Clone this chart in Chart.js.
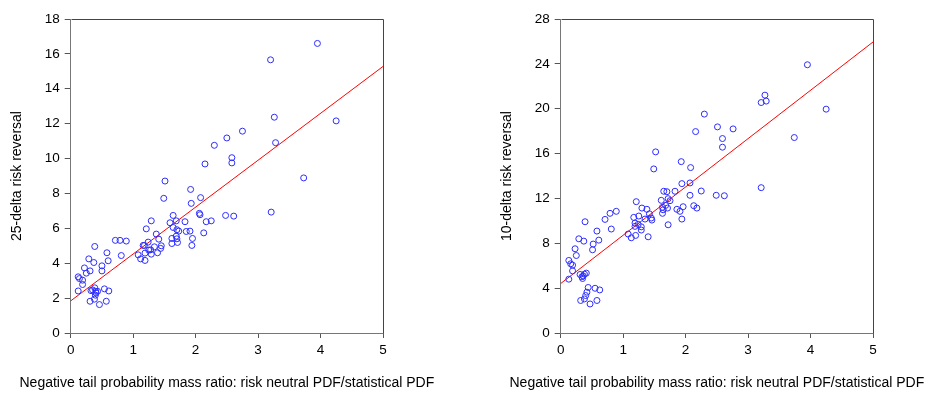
<!DOCTYPE html>
<html>
<head>
<meta charset="utf-8">
<script src="https://cdn.jsdelivr.net/npm/chart.js@4.4.1/dist/chart.umd.min.js"></script>
<style>
  body { margin: 0; background: #fff; width: 930px; height: 393px; overflow: hidden; position: relative; }
  canvas { position: absolute; top: 0; }
  #left { left: 0; }
  #right { left: 490px; }
</style>
</head>
<body>
<canvas id="left" width="465" height="393"></canvas>
<canvas id="right" width="440" height="393"></canvas>
<script>
// x values: negative tail probability mass ratio
var leftX = [3.95, 3.20, 3.26, 4.25, 2.75, 2.50, 2.30, 3.28, 2.58, 2.58, 2.15, 3.73, 1.51, 1.92, 1.49, 2.08,
  1.93, 2.48, 2.61, 3.21, 2.06, 2.07, 1.64, 1.69, 1.59, 1.83, 2.17, 2.25, 1.29, 1.21, 1.64, 2.13,
  1.85, 1.91, 1.70, 1.73, 1.37, 1.69, 1.62, 1.70, 1.95, 1.62, 1.71, 1.94, 1.41, 0.715, 0.79, 0.89,
  0.385, 1.24, 1.16, 1.18, 1.34, 1.45, 1.44, 1.25, 1.28, 0.58, 1.19, 1.39, 1.08, 1.29, 0.81, 1.12,
  1.19, 0.29, 0.60, 0.37, 0.50, 0.22, 0.31, 0.50, 0.25, 0.12, 0.14, 0.19, 0.19, 0.12, 0.325, 0.35,
  0.385, 0.40, 0.43, 0.405, 0.395, 0.54, 0.61, 0.31, 0.38, 0.46, 0.57];
var leftY = [16.6, 15.66, 12.37, 12.16, 11.57, 11.18, 10.76, 10.91, 10.05, 9.75, 9.69, 8.89, 8.71, 8.23, 7.72, 7.76,
  7.43, 6.74, 6.70, 6.93, 6.86, 6.78, 6.74, 6.43, 6.32, 6.38, 6.38, 6.43, 6.43, 5.97, 6.05, 5.74,
  5.82, 5.84, 5.92, 5.84, 5.67, 5.55, 5.42, 5.40, 5.42, 5.13, 5.19, 5.02, 5.38, 5.31, 5.31, 5.27,
  4.96, 5.21, 5.02, 5.02, 4.94, 5.00, 4.85, 4.75, 4.77, 4.60, 4.58, 4.60, 4.48, 4.52, 4.44, 4.25,
  4.16, 4.25, 4.14, 4.04, 3.85, 3.73, 3.56, 3.56, 3.43, 3.22, 3.12, 3.03, 2.78, 2.41, 2.43, 2.47,
  2.59, 2.39, 2.39, 2.30, 2.17, 2.53, 2.41, 1.82, 1.94, 1.63, 1.82];

var rightX = [3.95, 3.27, 3.21, 3.29, 4.25, 2.30, 2.51, 2.76, 2.16, 2.59, 3.74, 2.59, 1.52, 1.93, 1.49, 2.08,
  1.94, 2.07, 3.21, 1.65, 1.70, 1.83, 2.25, 2.07, 2.49, 2.62, 1.21, 1.61, 1.72, 1.75, 1.68, 1.63,
  1.71, 1.64, 1.63, 1.96, 1.86, 1.91, 2.13, 2.18, 1.94, 1.72, 0.89, 0.79, 0.71, 0.39, 1.30, 1.38,
  1.17, 1.25, 1.42, 1.45, 1.46, 1.35, 1.19, 1.24, 1.19, 1.29, 1.29, 0.81, 0.58, 1.08, 1.20, 1.13,
  1.40, 0.29, 0.37, 0.61, 0.52, 0.51, 0.23, 0.25, 0.13, 0.16, 0.19, 0.19, 0.13, 0.31, 0.34, 0.36,
  0.38, 0.41, 0.35, 0.44, 0.42, 0.40, 0.55, 0.625, 0.32, 0.38, 0.47, 0.58];
var rightY = [23.92, 21.21, 20.55, 20.68, 19.96, 19.52, 18.38, 18.20, 17.96, 17.34, 17.43, 16.57, 16.15, 15.28, 14.63, 14.75,
  13.32, 13.38, 12.96, 12.64, 12.60, 12.64, 12.66, 12.28, 12.28, 12.24, 11.71, 11.83, 11.98, 11.80, 11.38, 11.21,
  11.14, 10.99, 10.67, 11.26, 11.03, 10.85, 11.35, 11.14, 10.16, 9.65, 10.85, 10.67, 10.13, 9.92, 11.14, 11.03,
  10.31, 10.43, 10.63, 10.25, 10.07, 10.16, 9.80, 9.69, 9.51, 9.47, 9.18, 9.27, 9.09, 8.82, 8.70, 8.49,
  8.58, 8.40, 8.19, 8.28, 7.93, 7.42, 7.51, 6.91, 6.47, 6.17, 6.05, 5.54, 4.80, 5.22, 5.01, 5.09,
  5.25, 5.34, 4.86, 4.06, 3.64, 3.34, 3.99, 3.84, 2.90, 3.04, 2.59, 2.90];

// fitted lines, read at the two ends of the x axis
var fitX = [0, 5];
var leftFitY = [1.84, 15.28];
var rightFitY = [4.41, 25.95];

var xTitle = 'Negative tail probability mass ratio: risk neutral PDF/statistical PDF';
var leftTitle = '25-delta risk reversal';
var rightTitle = '10-delta risk reversal';

var FONT = 'Liberation Sans, Arial, sans-serif';

// top and right edges of the frame, plus the x axis title (wider than the axis, so not squeezed)
var framePlugin = {
    id: 'frame',
    afterDraw: function (chart) {
        var a = chart.chartArea;
        var ctx = chart.ctx;
        ctx.save();
        ctx.strokeStyle = '#444';
        ctx.lineWidth = 1;
        ctx.beginPath();
        ctx.moveTo(Math.round(a.left) + 0.5, Math.round(a.top) + 0.5);
        ctx.lineTo(Math.round(a.right) + 0.5, Math.round(a.top) + 0.5);
        ctx.lineTo(Math.round(a.right) + 0.5, Math.round(a.bottom) + 0.5);
        ctx.stroke();
        ctx.fillStyle = '#000';
        ctx.font = '14px ' + FONT;
        ctx.textAlign = 'center';
        ctx.textBaseline = 'middle';
        ctx.fillText(xTitle, (a.left + a.right) / 2, 383);
        ctx.restore();
    }
};

function drawScatter(id, xs, ys, fitY, yMax, yStep, yTitle, padRight) {
    var points = xs.map(function (x, i) { return {x: x, y: ys[i]}; });
    var fit = fitX.map(function (x, i) { return {x: x, y: fitY[i]}; });
    return new Chart(document.getElementById(id), {
        type: 'scatter',
        data: {
            datasets: [{
                data: points,
                pointStyle: 'circle',
                pointRadius: 3,
                pointHoverRadius: 3,
                borderColor: 'rgb(45,45,255)',
                backgroundColor: 'rgba(0,0,0,0)',
                borderWidth: 1
            }, {
                type: 'line',
                data: fit,
                borderColor: 'rgb(255,0,0)',
                borderWidth: 1,
                pointRadius: 0,
                fill: false
            }]
        },
        options: {
            responsive: false,
            animation: false,
            events: [],
            layout: { padding: { top: 19, right: padRight, left: 0, bottom: 0 } },
            plugins: { legend: { display: false }, tooltip: { enabled: false } },
            scales: {
                x: {
                    type: 'linear', min: 0, max: 5,
                    afterFit: function (s) { s.height = 60; },
                    ticks: { stepSize: 1, padding: 4, color: '#000', font: { family: FONT, size: 13.5 } },
                    grid: { drawOnChartArea: false, drawTicks: true, tickLength: 5, color: '#555' },
                    border: { color: '#777' }
                },
                y: {
                    min: 0, max: yMax,
                    afterFit: function (s) { s.width = 70.7; },
                    ticks: { stepSize: yStep, padding: 5, color: '#000', font: { family: FONT, size: 13.5 } },
                    grid: { drawOnChartArea: false, drawTicks: true, tickLength: 6, color: '#555' },
                    border: { color: '#777' },
                    title: { display: true, text: yTitle, color: '#000', font: { family: FONT, size: 14 }, padding: { top: 9, bottom: 0 } }
                }
            }
        },
        plugins: [framePlugin]
    });
}

drawScatter('left', leftX, leftY, leftFitY, 18, 2, leftTitle, 82);
drawScatter('right', rightX, rightY, rightFitY, 28, 4, rightTitle, 57);
</script>
</body>
</html>
